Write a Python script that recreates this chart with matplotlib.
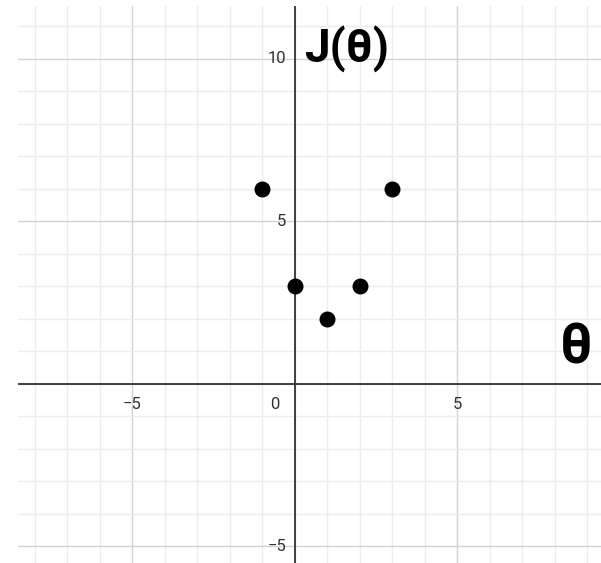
import numpy as np
import matplotlib.pyplot as plt

# points on the cost curve
theta = [-1, 0, 1, 2, 3]
cost = [6, 3, 2, 3, 6]

x_ticks = [-5, 0, 5]
y_ticks = [-5, 5, 10]

fig = plt.figure(figsize=(6.01, 5.63), dpi=100)
ax = fig.add_axes([18 / 601, 0, 583 / 601, 557 / 563])
ax.set_xlim(-8.51, 9.43)
ax.set_ylim(-5.51, 11.63)

# grid: light every 1, darker every 5
for v in np.arange(-8, 10):
    c = '#d2d2d2' if v % 5 == 0 else '#ececec'
    ax.axvline(v, color=c, lw=1, zorder=0)
for v in np.arange(-5, 12):
    c = '#d2d2d2' if v % 5 == 0 else '#ececec'
    ax.axhline(v, color=c, lw=1, zorder=0)

ax.axhline(0, color='#333333', lw=1.3, zorder=1)
ax.axvline(0, color='#333333', lw=1.3, zorder=1)

for s in ax.spines.values():
    s.set_visible(False)
ax.set_xticks([])
ax.set_yticks([])

font = 'Roboto'
for t in x_ticks:
    if t == 0:
        ax.annotate('0', (0, 0), xytext=(-14, -15), textcoords='offset points',
                    ha='center', va='center', fontsize=12, color='#333333', family=font)
    else:
        ax.annotate(str(t).replace('-', '\u2212'), (t, 0), xytext=(0, -15),
                    textcoords='offset points', ha='center', va='center',
                    fontsize=12, color='#333333', family=font)
for t in y_ticks:
    ax.annotate(str(t).replace('-', '\u2212'), (0, t), xytext=(-6, 0),
                textcoords='offset points', ha='right', va='center',
                fontsize=12, color='#333333', family=font)

ax.scatter(theta, cost, s=110, color='black', zorder=3)

ax.text(0.3, 10.28, 'J(\u03b8)', fontsize=33, fontweight='bold', family=font,
        ha='left', va='center')
ax.text(8.66, 1.08, '\u03b8', fontsize=40, fontweight='bold', family=font,
        ha='center', va='center')

fig.savefig('out.png', dpi=100)
